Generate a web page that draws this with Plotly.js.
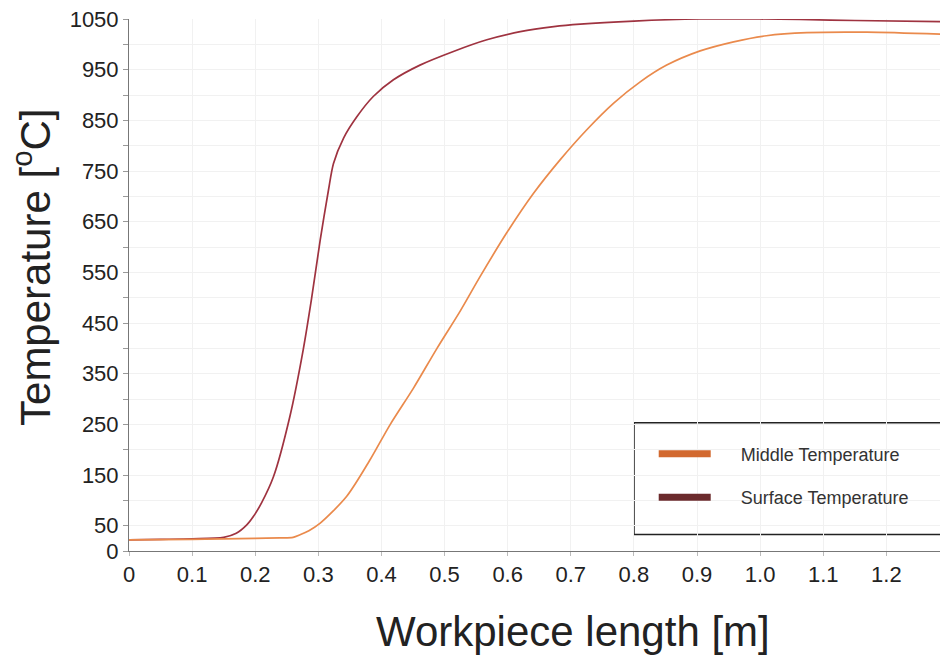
<!DOCTYPE html>
<html>
<head>
<meta charset="utf-8">
<script src="https://cdn.plot.ly/plotly-3.0.1.min.js"></script>
<style>html,body{margin:0;padding:0;background:#fff;}#chart{width:940px;height:657px;}</style>
</head>
<body>
<div id="chart"></div>
<script>
// Workpiece length [m] vs temperature [°C]
const surfaceX = [0, 0.05, 0.10, 0.15, 0.17, 0.187, 0.197, 0.21, 0.229, 0.255, 0.276, 0.289, 0.303, 0.316, 0.324, 0.340, 0.361, 0.387, 0.419, 0.461, 0.514, 0.567, 0.620, 0.673, 0.715, 0.80, 0.905, 1.0, 1.063, 1.15, 1.285];
const surfaceY = [22, 23, 24, 27, 35, 52, 68, 95, 147, 266, 397, 496, 614, 712, 765, 815, 857, 897, 930, 959, 986, 1009, 1025, 1035, 1040, 1046, 1050, 1050, 1049, 1047, 1045];
const middleX = [0, 0.1, 0.15, 0.2, 0.239, 0.26, 0.271, 0.285, 0.303, 0.345, 0.381, 0.414, 0.451, 0.488, 0.525, 0.556, 0.598, 0.641, 0.683, 0.725, 0.768, 0.810, 0.852, 0.905, 0.958, 1.010, 1.074, 1.169, 1.285];
const middleY = [22, 23, 24, 25, 26, 27, 32, 40, 55, 108, 178, 250, 322, 400, 474, 541, 627, 706, 772, 831, 884, 926, 959, 987, 1005, 1017, 1023, 1024, 1020];

const xTickVals = [0, 0.1, 0.2, 0.3, 0.4, 0.5, 0.6, 0.7, 0.8, 0.9, 1.0, 1.1, 1.2];
const xTickText = ["0", "0.1", "0.2", "0.3", "0.4", "0.5", "0.6", "0.7", "0.8", "0.9", "1.0", "1.1", "1.2"];
const yTickVals = [0, 50, 150, 250, 350, 450, 550, 650, 750, 850, 950, 1050];
const yTickText = ["0", "50", "150", "250", "350", "450", "550", "650", "750", "850", "950", "1050"];

const seriesNames = ["Middle Temperature", "Surface Temperature"];
const xTitle = "Workpiece length [m]";
const yTitle = "Temperature [<sup>o</sup>C]";

const pad = "\u00a0\u00a0\u00a0\u00a0\u00a0";

const traces = [
  {x: surfaceX, y: surfaceY, type: 'scatter', mode: 'lines', showlegend: false,
   line: {color: '#9f3340', width: 1.7, shape: 'spline', smoothing: 0.8}},
  {x: middleX, y: middleY, type: 'scatter', mode: 'lines', showlegend: false,
   line: {color: '#ea8a4c', width: 1.7, shape: 'spline', smoothing: 0.8}},
  {x: [null], y: [null], type: 'scatter', mode: 'lines', name: pad + seriesNames[0], legendgroup: 'a',
   line: {color: '#d2692f', width: 7}},
  {x: [null], y: [null], type: 'scatter', mode: 'lines', name: pad + seriesNames[1], legendgroup: 'b',
   line: {color: '#6b2a2c', width: 7}}
];

const layout = {
  width: 940, height: 657,
  margin: {l: 129, r: 0, t: 19, b: 106, pad: 0},
  paper_bgcolor: '#fff', plot_bgcolor: '#fff',
  font: {family: '"Liberation Sans", Arial, sans-serif', color: '#222'},
  xaxis: {
    range: [0, 1.285], tickvals: xTickVals, ticktext: xTickText,
    tickfont: {size: 22, color: '#222'},
    showline: true, linecolor: '#777', linewidth: 1,
    ticks: 'outside', ticklen: 4, tickcolor: '#bbb',
    showgrid: true, gridcolor: '#f1f1f1', gridwidth: 1, zeroline: false
  },
  yaxis: {
    range: [0, 1050], tickvals: yTickVals, ticktext: yTickText,
    tickfont: {size: 22, color: '#222'},
    showline: true, linecolor: '#777', linewidth: 1,
    ticks: 'outside', ticklen: 5, tickcolor: '#999',
    showgrid: true, gridcolor: '#f1f1f1', gridwidth: 1, zeroline: false,
    minor: {tick0: 0, dtick: 50, ticks: 'outside', ticklen: 5, tickcolor: '#999',
            showgrid: true, gridcolor: '#f1f1f1', gridwidth: 1}
  },
  legend: {
    x: 0.647, y: 0.217, xanchor: 'left', yanchor: 'top',
    bgcolor: 'rgba(0,0,0,0)', borderwidth: 0,
    font: {size: 18, color: '#333'},
    tracegroupgap: 17, itemwidth: 52
  },
  shapes: [
    {type: 'rect', xref: 'paper', yref: 'paper', x0: 0.6227, x1: 1.02, y0: 0.031, y1: 0.241,
     line: {color: '#222', width: 1.5}, fillcolor: '#fff', layer: 'below'}
  ],
  annotations: [
    {text: xTitle, xref: 'paper', yref: 'paper', x: 0.5475, y: -0.152, xanchor: 'center', yanchor: 'middle',
     showarrow: false, font: {size: 42, color: '#222'}},
    {text: yTitle, xref: 'paper', yref: 'paper', x: -0.1196, y: 0.532, xanchor: 'center', yanchor: 'middle',
     textangle: -90, showarrow: false, font: {size: 42, color: '#222'}}
  ]
};

Plotly.newPlot('chart', traces, layout, {displayModeBar: false, staticPlot: true});
</script>
</body>
</html>
